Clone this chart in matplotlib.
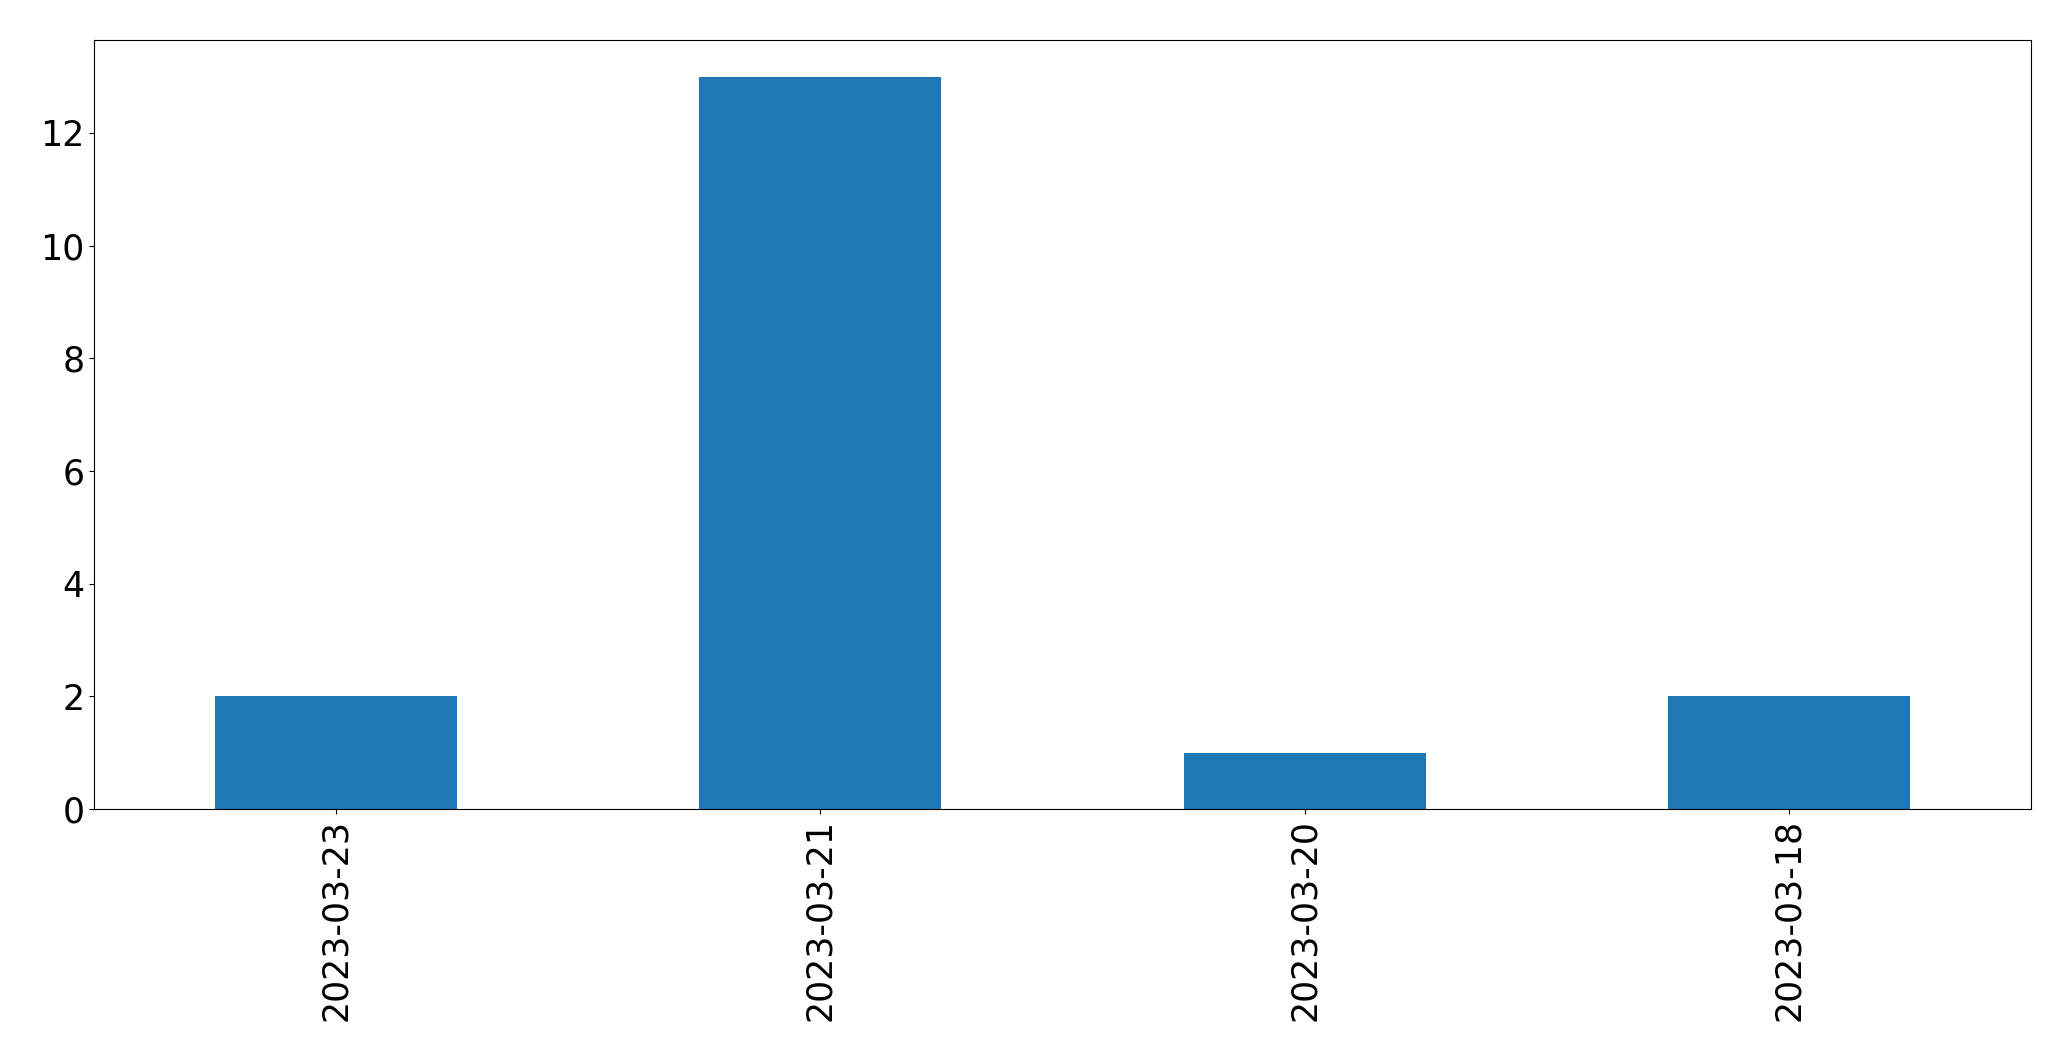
import matplotlib
matplotlib.use("Agg")
import numpy as np
from matplotlib import pyplot as plt

dates = ["2023-03-23", "2023-03-21", "2023-03-20", "2023-03-18"]
counts = [2, 13, 1, 2]

fig = plt.figure(figsize=(20.71, 10.61), dpi=100)
ax = fig.add_axes([94 / 2071, 1 - 809 / 1061, (2031 - 94) / 2071, (809 - 40) / 1061])

x = np.arange(len(dates))
ax.bar(x, counts, width=0.5, color="#1f77b4")
ax.set_xlim(-0.5, len(dates) - 0.5)
ax.set_ylim(0, 13.65)
ax.set_xticks(x)
ax.set_xticklabels(dates, rotation=90)
ax.set_yticks(range(0, 13, 2))
ax.tick_params(labelsize=25)

fig.savefig("out.png", dpi=100)
